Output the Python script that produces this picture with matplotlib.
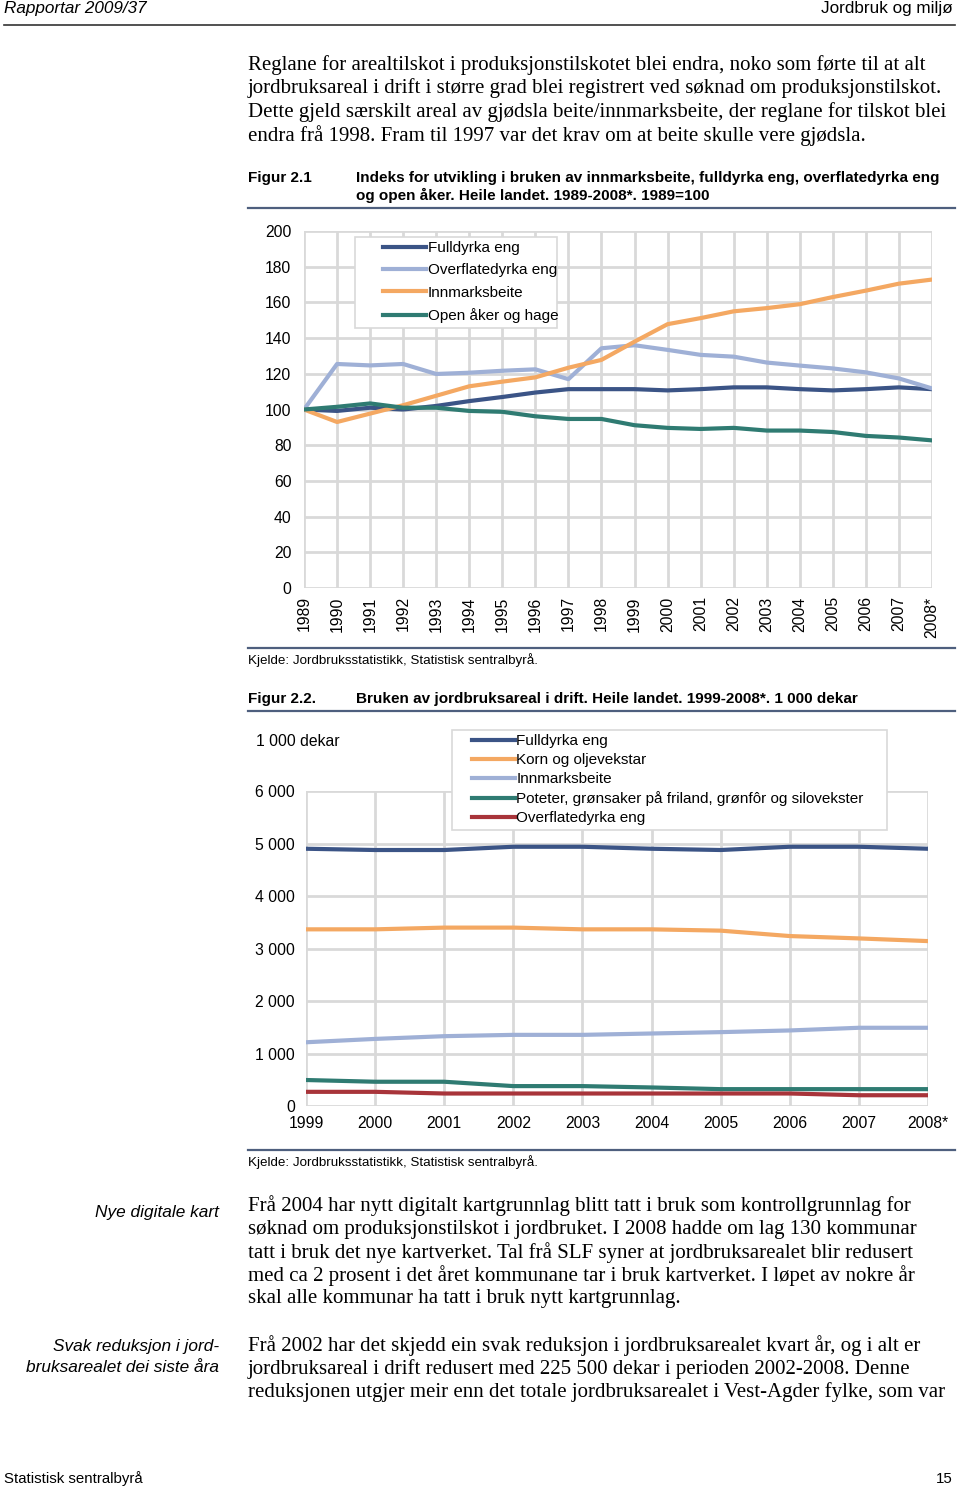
import matplotlib
matplotlib.use("Agg")
from matplotlib import pyplot as plt
from matplotlib.lines import Line2D
from matplotlib.patches import Rectangle

# ---- data: figur 2.1 (indeks, 1989=100)
years1 = ['1989', '1990', '1991', '1992', '1993', '1994', '1995', '1996', '1997', '1998',
          '1999', '2000', '2001', '2002', '2003', '2004', '2005', '2006', '2007', '2008*']
fulldyrka = [100, 99.2, 101, 100, 102, 104.7, 107, 109.5, 111.4, 111.4,
             111.4, 110.7, 111.4, 112.4, 112.4, 111.4, 110.7, 111.4, 112.4, 111.4]
overflate = [100, 125.5, 124.7, 125.5, 119.9, 120.6, 121.7, 122.5, 117, 134.3,
             136, 133.4, 130.6, 129.6, 126.3, 124.6, 123, 120.8, 117.4, 111.8]
innmark = [100, 93, 97.7, 102.4, 107.7, 113, 115.6, 118, 123.4, 127.8,
           138, 147.8, 151.2, 155, 156.8, 159, 163, 166.6, 170.5, 172.8]
open_aker = [100, 101.5, 103.4, 101, 101, 99.2, 98.7, 96.2, 94.7, 94.7,
             91.2, 89.7, 89.1, 89.7, 88.2, 88.2, 87.4, 85.2, 84.3, 82.7]

# ---- data: figur 2.2 (1 000 dekar)
years2 = ['1999', '2000', '2001', '2002', '2003', '2004', '2005', '2006', '2007', '2008*']
full2 = [4900, 4876, 4876, 4938, 4938, 4900, 4876, 4938, 4938, 4900]
korn = [3365, 3365, 3398, 3398, 3365, 3365, 3340, 3237, 3192, 3141]
innmark2 = [1214, 1278, 1330, 1355, 1355, 1381, 1407, 1439, 1490, 1490]
poteter = [495, 462, 462, 379, 379, 353, 321, 321, 321, 321]
overflate2 = [270, 270, 238, 238, 238, 238, 238, 238, 205, 205]

W, H = 960, 1489
C_DARK = '#3b5486'
C_LIGHT = '#9fb0d6'
C_ORANGE = '#f4a862'
C_TEAL = '#2f7b72'
C_RED = '#a8343a'
GRID = '#d9d9d9'
RULE = '#4e5f7e'
FS = 11.3
LFS = 11.0

plt.rcParams['font.family'] = ['Liberation Sans', 'DejaVu Sans']

fig = plt.figure(figsize=(W / 100, H / 100), dpi=100)


def fx(x):
    return x / W


def fy(y):
    return 1 - y / H


def hline(y, x0, x1, color, lw):
    fig.add_artist(Line2D([fx(x0), fx(x1)], [fy(y), fy(y)], color=color, lw=lw,
                          transform=fig.transFigure))


def box(ax, x0, y0, x1, y1):
    # white legend frame, drawn inside the axes so it sits under the legend
    ax.add_patch(Rectangle((fx(x0), fy(y1)), fx(x1) - fx(x0), fy(y0) - fy(y1),
                           transform=fig.transFigure, facecolor='white',
                           edgecolor=GRID, lw=1.2, zorder=3, clip_on=False))


def txt(x, y, s, **kw):
    fig.text(fx(x), fy(y), s, va='center', **kw)


# header / footer
txt(4, 9, 'Rapportar 2009/37', fontsize=12.3, style='italic')
txt(953, 9, 'Jordbruk og miljø', fontsize=12.3, ha='right')
hline(25, 4, 955, '#333333', 1.2)
txt(4, 1479, 'Statistisk sentralbyrå', fontsize=10.8)
txt(953, 1479, '15', fontsize=10.8, ha='right')

serif = dict(fontsize=15, family='Liberation Serif')
para1 = ['Reglane for arealtilskot i produksjonstilskotet blei endra, noko som førte til at alt',
         'jordbruksareal i drift i større grad blei registrert ved søknad om produksjonstilskot.',
         'Dette gjeld særskilt areal av gjødsla beite/innmarksbeite, der reglane for tilskot blei',
         'endra frå 1998. Fram til 1997 var det krav om at beite skulle vere gjødsla.']
for i, s in enumerate(para1):
    txt(248, 65 + i * 23.5, s, **serif)

# figur 2.1 title
txt(248, 178, 'Figur 2.1', fontsize=11, weight='bold')
txt(356, 178, 'Indeks for utvikling i bruken av innmarksbeite, fulldyrka eng, overflatedyrka eng',
    fontsize=11, weight='bold')
txt(356, 195, 'og open åker. Heile landet. 1989-2008*. 1989=100', fontsize=11, weight='bold')
hline(208, 248, 955, RULE, 1.6)

ax1 = fig.add_axes([fx(304), fy(588), (932 - 304) / W, (588 - 231) / H])
xs1 = range(len(years1))
ax1.plot(xs1, fulldyrka, color=C_DARK, lw=3, label='Fulldyrka eng')
ax1.plot(xs1, overflate, color=C_LIGHT, lw=3, label='Overflatedyrka eng')
ax1.plot(xs1, innmark, color=C_ORANGE, lw=3, label='Innmarksbeite')
ax1.plot(xs1, open_aker, color=C_TEAL, lw=3, label='Open åker og hage')
ax1.set_xlim(0, len(years1) - 1)
ax1.set_ylim(0, 200)
ax1.set_yticks(range(0, 201, 20))
ax1.set_xticks(list(xs1))
ax1.set_xticklabels(years1, rotation=90, va='top')
ax1.tick_params(length=0, labelsize=FS)
ax1.tick_params(axis='y', pad=9)
ax1.tick_params(axis='x', pad=6)
ax1.grid(True, color=GRID, lw=2)
ax1.set_axisbelow(True)
for sp in ax1.spines.values():
    sp.set_visible(False)
box(ax1, 355, 237, 557, 328)
leg1 = ax1.legend(loc='upper left', bbox_to_anchor=(fx(383), fy(241)),
                  bbox_transform=fig.transFigure, fontsize=LFS, frameon=False,
                  borderaxespad=0, borderpad=0, handlelength=2.8,
                  handletextpad=0.13, labelspacing=0.55)
leg1.set_zorder(5)

hline(648, 248, 955, RULE, 1.6)
txt(248, 660, 'Kjelde: Jordbruksstatistikk, Statistisk sentralbyrå.', fontsize=9.6)

# figur 2.2
txt(248, 699, 'Figur 2.2.', fontsize=11, weight='bold')
txt(356, 699, 'Bruken av jordbruksareal i drift. Heile landet. 1999-2008*. 1 000 dekar',
    fontsize=11, weight='bold')
hline(711, 248, 955, RULE, 1.6)

ax2 = fig.add_axes([fx(306), fy(1106), (928 - 306) / W, (1106 - 791) / H])
xs2 = range(len(years2))
ax2.plot(xs2, full2, color=C_DARK, lw=3, label='Fulldyrka eng')
ax2.plot(xs2, korn, color=C_ORANGE, lw=3, label='Korn og oljevekstar')
ax2.plot(xs2, innmark2, color=C_LIGHT, lw=3, label='Innmarksbeite')
ax2.plot(xs2, poteter, color=C_TEAL, lw=3,
         label='Poteter, grønsaker på friland, grønfôr og silovekster')
ax2.plot(xs2, overflate2, color=C_RED, lw=3, label='Overflatedyrka eng')
ax2.set_xlim(0, len(years2) - 1)
ax2.set_ylim(0, 6000)
ax2.set_yticks(range(0, 6001, 1000))
ax2.set_yticklabels(['0', '1 000', '2 000', '3 000', '4 000', '5 000', '6 000'])
ax2.set_xticks(list(xs2))
ax2.set_xticklabels(years2)
ax2.tick_params(length=0, labelsize=FS)
ax2.tick_params(axis='y', pad=8)
ax2.tick_params(axis='x', pad=7)
ax2.grid(True, color=GRID, lw=2)
ax2.set_axisbelow(True)
for sp in ax2.spines.values():
    sp.set_visible(False)
txt(256, 741, '1 000 dekar', fontsize=FS)
box(ax2, 452, 730, 887, 830)
leg2 = ax2.legend(loc='upper left', bbox_to_anchor=(fx(472), fy(734)),
                  bbox_transform=fig.transFigure, fontsize=LFS, frameon=False,
                  borderaxespad=0, borderpad=0, handlelength=2.8,
                  handletextpad=0.1, labelspacing=0.33)
leg2.set_zorder(5)

hline(1150, 248, 955, RULE, 1.6)
txt(248, 1162, 'Kjelde: Jordbruksstatistikk, Statistisk sentralbyrå.', fontsize=9.6)

# side notes and text
txt(219, 1212, 'Nye digitale kart', fontsize=12.4, style='italic', ha='right')
para2 = ['Frå 2004 har nytt digitalt kartgrunnlag blitt tatt i bruk som kontrollgrunnlag for',
         'søknad om produksjonstilskot i jordbruket. I 2008 hadde om lag 130 kommunar',
         'tatt i bruk det nye kartverket. Tal frå SLF syner at jordbruksarealet blir redusert',
         'med ca 2 prosent i det året kommunane tar i bruk kartverket. I løpet av nokre år',
         'skal alle kommunar ha tatt i bruk nytt kartgrunnlag.']
for i, s in enumerate(para2):
    txt(248, 1206 + i * 23.2, s, **serif)

txt(219, 1346, 'Svak reduksjon i jord-', fontsize=12.4, style='italic', ha='right')
txt(219, 1368, 'bruksarealet dei siste åra', fontsize=12.4, style='italic', ha='right')
para3 = ['Frå 2002 har det skjedd ein svak reduksjon i jordbruksarealet kvart år, og i alt er',
         'jordbruksareal i drift redusert med 225 500 dekar i perioden 2002-2008. Denne',
         'reduksjonen utgjer meir enn det totale jordbruksarealet i Vest-Agder fylke, som var']
for i, s in enumerate(para3):
    txt(248, 1346 + i * 23.2, s, **serif)

fig.savefig('out.png', dpi=100)
